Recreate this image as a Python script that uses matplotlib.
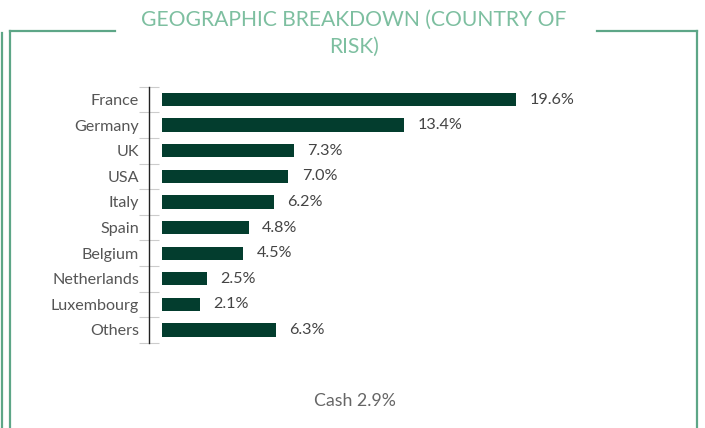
import matplotlib
matplotlib.use("Agg")
import matplotlib.pyplot as plt
from matplotlib.lines import Line2D

countries = ["France", "Germany", "UK", "USA", "Italy", "Spain", "Belgium",
             "Netherlands", "Luxembourg", "Others"]
weights = [19.6, 13.4, 7.3, 7.0, 6.2, 4.8, 4.5, 2.5, 2.1, 6.3]
cash = 2.9

W, H = 705, 428
BAR = "#033d2e"
FRAME = "#5da687"
TITLE = "#7dbfa0"

plt.rcParams["font.family"] = ["Lato", "DejaVu Sans"]

fig = plt.figure(figsize=(W / 100, H / 100), dpi=100)


def px(x0, y0, x1, y1):
    return [x0 / W, x1 / W], [1 - y0 / H, 1 - y1 / H]


# frame around the panel
for seg in [(1.5, 33, 1.5, H), (10, 31, 10, H), (10, 31, 115, 31),
            (597, 31, 697, 31), (697, 31, 697, H)]:
    xs, ys = px(*seg)
    fig.add_artist(Line2D(xs, ys, color=FRAME, lw=1.6, transform=fig.transFigure))

fig.text(354 / W, 1 - 20 / H, "GEOGRAPHIC BREAKDOWN (COUNTRY OF", ha="center", va="center",
         fontsize=15.2, color=TITLE)
fig.text(354 / W, 1 - 47 / H, "RISK)", ha="center", va="center",
         fontsize=15.2, color=TITLE)

# axes: spine at x=149.3px, rows from 86.7 to 342.8 px
ax_left, ax_top, ax_bot = 149.3, 86.7, 342.8
scale = 18.06  # px per %
x0 = -(162 - ax_left) / scale
ax_w = 700 - ax_left
ax = fig.add_axes([ax_left / W, 1 - ax_bot / H, ax_w / W, (ax_bot - ax_top) / H])
ax.set_xlim(x0, x0 + ax_w / scale)
ax.set_ylim(len(countries) - 0.5, -0.5)

ypos = list(range(len(countries)))
ax.barh(ypos, weights, height=0.52, color=BAR)
for y, v in zip(ypos, weights):
    ax.text(v + 0.75, y, f"{v:.1f}%", va="center", ha="left", fontsize=11.6, color="#444444")

ax.set_yticks(ypos)
ax.set_yticklabels(countries, fontsize=11.6, color="#555555")
ax.tick_params(axis="y", which="major", length=0, pad=7.5)
ax.set_yticks([i - 0.5 for i in range(len(countries) + 1)], minor=True)
ax.tick_params(axis="y", which="minor", direction="inout", length=14.4, width=0.8, color="#cccccc")
ax.set_xticks([])
for s in ["top", "right", "bottom"]:
    ax.spines[s].set_visible(False)
ax.spines["left"].set_color("#222222")
ax.spines["left"].set_linewidth(1.0)
ax.patch.set_visible(False)

fig.text(355 / W, 1 - 401 / H, f"Cash {cash}%", ha="center", va="center",
         fontsize=12.8, color="#666666")

fig.savefig("out.png", dpi=100)
